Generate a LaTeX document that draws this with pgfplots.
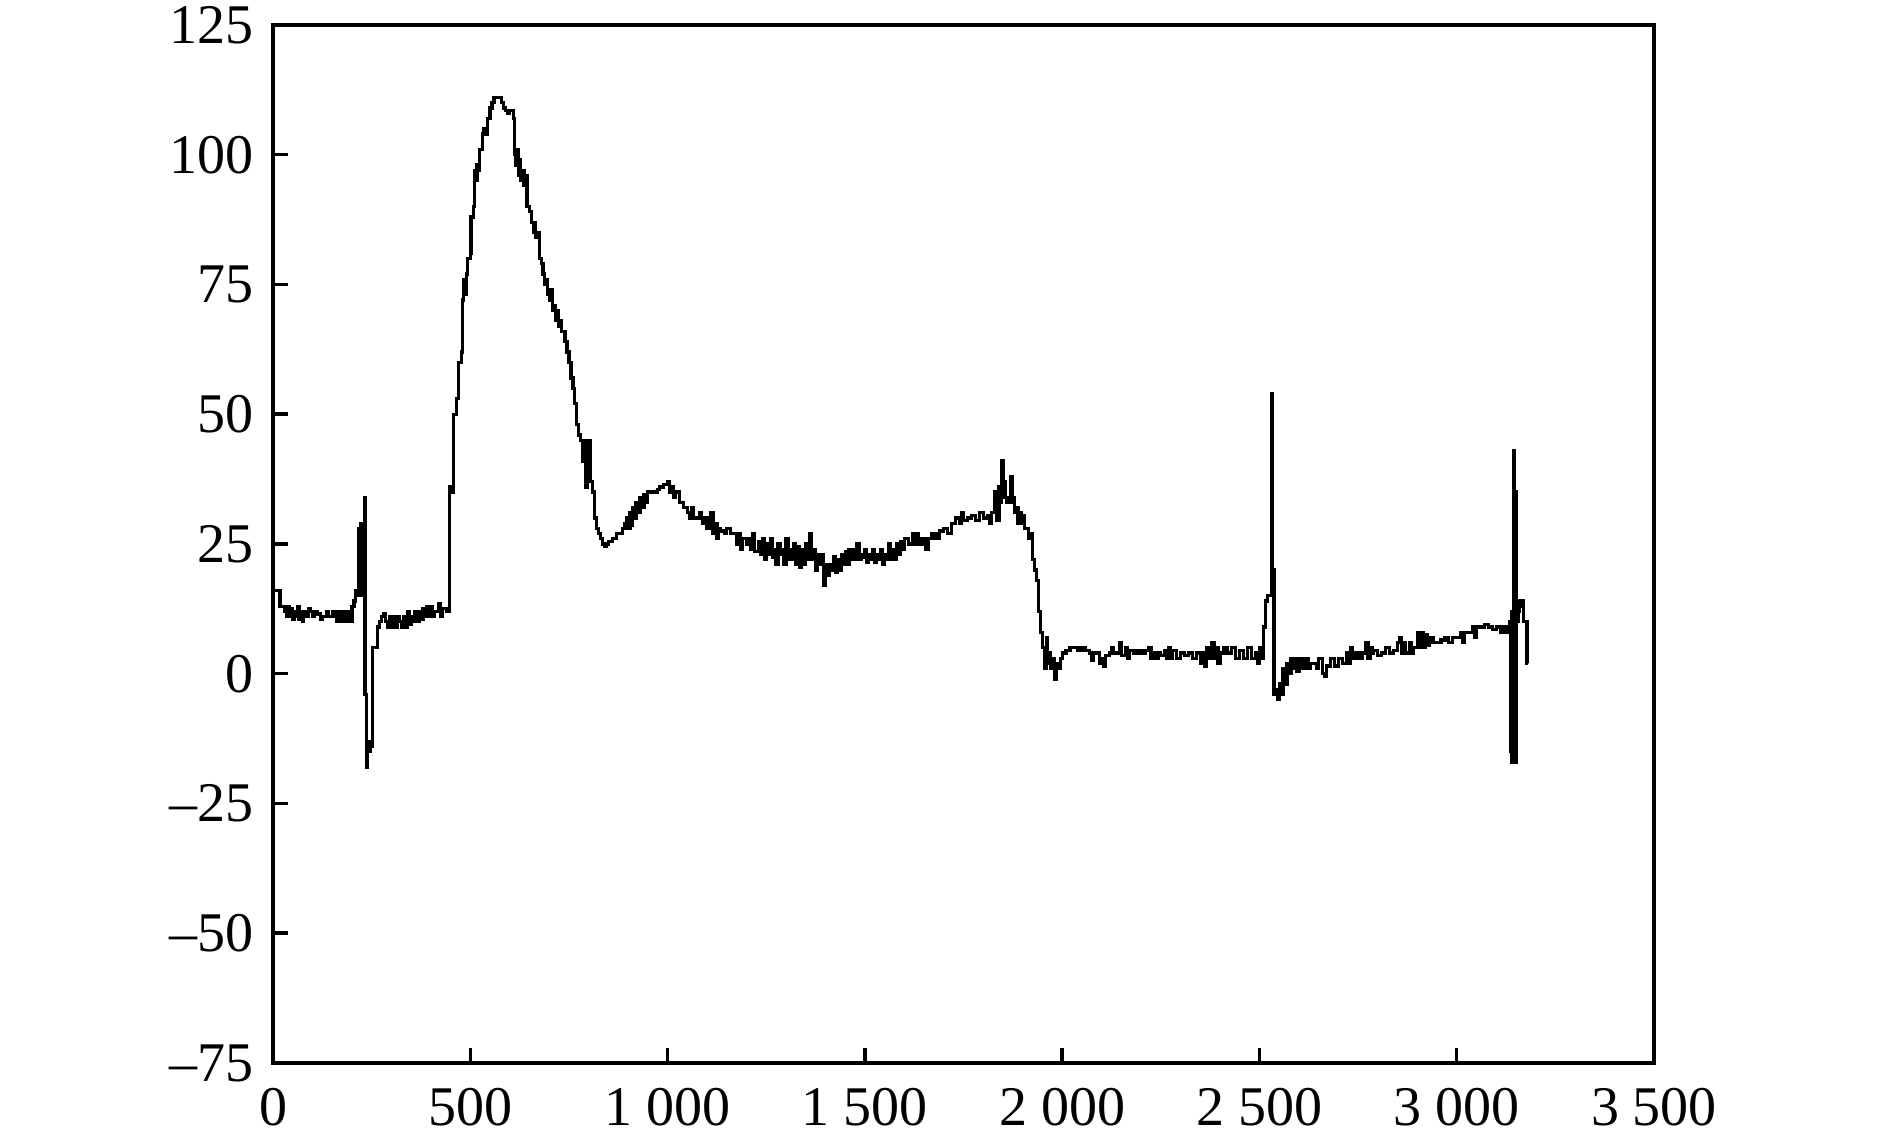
\documentclass[border=0pt]{standalone}
\usepackage{fontspec}
\setmainfont{Liberation Serif}
\usepackage{pgfplots}
\pgfplotsset{compat=1.18}
\begin{document}
\fontsize{11.2}{13}\selectfont
\begin{tikzpicture}
\begin{axis}[
  scale only axis,
  width=276.2pt, height=207.6pt,
  xmin=0, xmax=3500, ymin=-75, ymax=125,
  xtick={0,500,1000,1500,2000,2500,3000,3500},
  xticklabels={0,500,1~000,1~500,2~000,2~500,3~000,3~500},
  ytick={-75,-50,-25,0,25,50,75,100,125},
  yticklabels={–75,–50,–25,0,25,50,75,100,125},
  xtick pos=bottom, ytick pos=left,
  tick align=inside,
  major tick length=3pt,
  axis line style={line width=0.8pt},
  every tick/.style={black, line width=0.7pt},
  tick label style={font=\fontsize{11.2}{13}\selectfont},
  xticklabel style={yshift=-1.2pt},
  clip=false,
]
\addplot[const plot, black, line width=0.65pt] table {
x y
0 16
15 16
18 13
30 12
34 11
38 13
42 11
46 12.5
50 10.5
54 12
58 11
62 13
66 10.5
70 12
74 10
78 12
85 11
90 12.5
95 12
100 11
105 12
112 11.5
120 10.5
125 11
135 12
140 11
150 12
155 11
160 10
163 12
166 10
169 12
172 10
175 12
178 10
181 12
184 10.5
187 12
190 10
193 11
198 10
200 13
205 14
210 16
215 15
217 28
220 15
223 29
226 16
229 28
231 34
233 -4
236 -14
238 -18
240 -13
243 -15
246 -13
249 -14
252 5
262 5
265 9
270 10
275 11
280 11.5
285 10
290 9
295 11
300 9
305 11
310 9
315 11
320 10
325 9
330 11
335 9
340 12
345 9.5
350 11
355 10
360 12
365 10
370 12
375 10.5
380 12.5
385 11
390 13
395 11
400 13
405 11
410 12
415 12
420 13.5
425 11
430 12.5
440 12
445 12
448 36
455 35
458 50
465 53
470 60
478 62
480 72
483 76
485 73
490 77
493 80
500 81
502 88
508 90
510 97
513 95
517 98
520 97
523 101
530 104
535 105
540 104
543 107
550 109
555 110
560 111
570 111
580 110
585 109
590 108.5
595 108
600 108.5
610 107
612 100
615 98
618 101
622 96
625 99
628 95
632 97
636 94
640 96
644 90
650 89
655 87
660 85
662 87
666 84
670 85
675 80
680 79
684 77
688 75
692 76
696 73
700 72
704 74
708 70
712 71
716 68
720 70
724 67
728 68
732 66
740 64
745 62
750 60
755 57
760 55
765 52
770 48
775 46
780 45
785 41
790 45
793 36
797 40
800 45
805 37
810 35
815 30
820 28
825 27
830 26
835 25
840 24.5
845 25
850 25.5
860 26
870 27
880 27
885 28
890 29
895 30
900 28
905 31
908 28.5
912 32
916 30
920 33
925 31
930 34
935 32
940 34.5
945 33
950 35
960 35
965 35
975 35.5
980 36
990 36.5
1000 37
1005 35
1010 36
1015 34
1020 35
1030 33
1040 32
1050 31
1055 30
1060 32
1065 30
1075 30
1080 31
1085 30
1090 29
1095 30
1100 28
1110 31
1115 27
1120 29
1125 26
1130 28
1135 27.5
1145 27
1150 28
1160 27
1170 27
1175 25
1180 27
1185 24
1190 26
1200 25
1205 26
1210 24
1215 27
1220 23.5
1230 25.5
1235 23
1240 26
1245 22
1250 25
1255 23
1260 26
1265 22.5
1270 24
1275 21
1280 25
1285 23
1290 24
1295 21
1300 26
1305 22
1310 24
1315 22
1320 25
1325 21
1330 24.5
1335 20.5
1340 24
1345 21
1350 25
1355 22
1360 27
1365 22
1370 24
1375 20
1380 23
1385 21
1390 23
1395 17
1400 21
1405 19
1410 21
1415 20
1420 22.5
1425 19.5
1430 22
1435 20
1440 23
1445 21
1450 23.5
1455 21
1460 24
1465 22
1470 24
1475 22
1480 25
1485 22
1490 23
1495 22.5
1500 24
1505 21.5
1510 23
1515 22
1520 24
1525 21.5
1530 23
1535 22
1540 24
1545 21
1550 23
1555 22
1560 25
1565 22
1570 24
1575 22
1580 25
1585 23
1590 25.5
1595 24
1600 26
1610 25
1620 27
1625 25
1630 27
1635 25
1640 26
1650 25
1655 24
1660 26
1670 27
1680 26
1690 27.5
1700 28
1710 27
1720 29
1730 30
1740 29
1745 31
1750 29.5
1760 30
1770 30.5
1780 29.5
1790 31
1800 30
1810 30.5
1815 29
1820 31
1830 35
1835 29.5
1840 36
1844 33
1847 41
1851 37
1855 34
1859 33
1862 34
1866 33
1869 38
1873 33
1877 34
1880 31
1884 32
1888 29
1892 31
1896 29
1900 30.5
1905 28
1910 28
1915 26
1920 27
1925 22
1930 20
1935 18
1940 12
1945 8
1950 5
1955 1
1960 7
1962 2
1966 4
1970 1
1975 3
1980 -1
1985 2
1990 1
1995 3
2000 4
2010 4.5
2020 5
2030 5
2040 4.5
2050 5
2060 4.5
2070 4
2075 2.5
2080 4
2090 4
2095 2
2100 3
2105 1.5
2110 3.5
2120 4
2125 5
2130 4
2140 4
2145 6
2150 3.5
2160 5
2165 3
2170 4.5
2180 4
2190 4.5
2200 4
2210 4.5
2220 5
2225 3
2230 4
2240 3
2245 4
2250 3.5
2260 4.5
2265 3
2270 5
2275 3
2280 4.5
2290 3
2300 4
2310 3.5
2320 4
2330 3
2340 4
2350 2
2355 4
2360 1.5
2365 5
2370 3
2380 6
2385 3
2390 5
2395 2
2400 4
2410 5
2420 4
2430 5
2440 3
2450 4.5
2460 3
2470 5
2480 3
2490 4
2495 2
2500 5
2505 3
2510 9
2515 14
2520 15
2527 15
2531 54
2534 20
2537 -4
2541 -3
2545 -5
2550 -2
2555 -4
2560 1
2565 -2
2570 2
2575 0
2580 3
2585 1
2590 3
2595 0.5
2600 3
2605 1
2610 3
2615 1
2620 3
2625 1
2630 2
2640 2
2645 1
2650 3
2660 0
2665 -0.5
2670 1.5
2680 3
2690 1.5
2700 3
2710 2
2720 4
2725 2
2730 5
2735 3
2740 4
2750 3
2760 4
2770 6
2775 3
2780 5
2785 4
2790 4.5
2800 3.5
2810 4
2820 5
2830 4
2840 4.5
2850 6
2855 7
2860 4
2865 6
2870 4
2880 6
2885 4
2890 5
2900 8
2905 5
2910 8
2915 5
2920 7.5
2925 5.5
2930 7
2940 6
2950 6
2960 6.5
2970 7
2980 6
2990 7
3000 7
3010 8
3015 6
3020 8
3030 8
3040 9
3045 7
3050 9
3060 9
3070 9.5
3080 9
3090 8.5
3100 9
3110 8
3120 9
3130 8
3134 10
3136 -15
3138 12
3140 -17
3143 43
3146 -16
3148 35
3150 -17
3152 10
3155 12
3160 14
3165 13
3168 14
3170 10
3175 10
3178 2
3180 2
};
\coordinate (bbSW) at (rel axis cs:-0.1977,-0.0655);
\coordinate (bbNE) at (rel axis cs:1.1709,1.0241);
\end{axis}
\pgfresetboundingbox
\path (bbSW) rectangle (bbNE);
\end{tikzpicture}
\end{document}
